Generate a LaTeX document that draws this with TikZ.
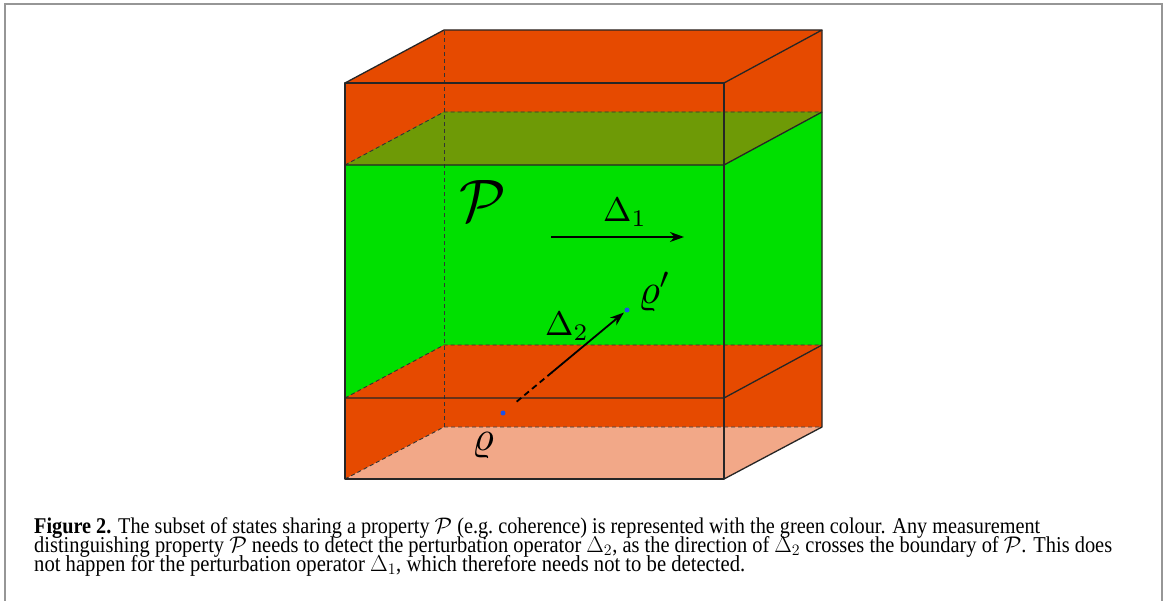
\RequirePackage{fix-cm}
\documentclass[tikz,border=0pt]{standalone}
\usepackage{fontspec}
\setmainfont{Liberation Serif}
\newfontfamily\capfont[FakeStretch=0.9]{Liberation Serif}
\usetikzlibrary{arrows.meta,calc}
\definecolor{cred}{RGB}{230,74,0}
\definecolor{cgreen}{RGB}{0,224,0}
\definecolor{colive}{RGB}{110,154,6}
\definecolor{csalmon}{RGB}{242,168,136}
\definecolor{cdot}{RGB}{30,80,230}
\definecolor{cframe}{RGB}{150,150,150}
\begin{document}
\begin{tikzpicture}[x=1pt,y=-1pt,
  edge/.style={line width=1.3pt, black!85, line join=round},
  hid/.style={line width=0.9pt, black!80, dash pattern=on 4pt off 3pt},
  statedot/.style={circle, fill=cdot, inner sep=0pt, minimum size=5pt},
  lab/.style={inner sep=0pt},
  arr/.style={line width=1.8pt, -{Stealth[length=14pt,width=10pt]}},
  capline/.style={anchor=base west, inner sep=0pt, font=\capfont\fontsize{18.5}{19}\selectfont}]
\useasboundingbox (0,0) rectangle (1165,601);
\fill[white] (0,0) rectangle (1165,601);
\draw[cframe, line width=2pt] (5,601) -- (5,4) -- (1162,4) -- (1162,601);
% cube corners
\coordinate (F0L) at (345,479); \coordinate (F0R) at (724,479);
\coordinate (B0L) at (444,427); \coordinate (B0R) at (822,427);
\coordinate (F1L) at (345,398); \coordinate (F1R) at (724,398);
\coordinate (B1L) at (444,345); \coordinate (B1R) at (822,345);
\coordinate (F2L) at (345,165); \coordinate (F2R) at (724,165);
\coordinate (B2L) at (444,112); \coordinate (B2R) at (822,112);
\coordinate (F3L) at (345,83);  \coordinate (F3R) at (724,83);
\coordinate (B3L) at (444,30);  \coordinate (B3R) at (822,30);
% fills
\fill[cred] (F0L)--(F0R)--(B0R)--(B3R)--(B3L)--(F3L)--cycle;
\fill[cgreen] (F1L)--(F1R)--(B1R)--(B2R)--(B2L)--(F2L)--cycle;
\fill[colive] (F2L)--(F2R)--(B2R)--(B2L)--cycle;
\fill[cred] (F1L)--(F1R)--(B1R)--(B1L)--cycle;
\fill[csalmon] (F0L)--(F0R)--(B0R)--(B0L)--cycle;
% hidden edges
\draw[hid] (B0L)--(B3L);
\draw[hid] (F0L)--(B0L)--(B0R);
\draw[hid] (F1L)--(B1L)--(B1R);
\draw[hid] (F2L)--(B2L)--(B2R);
% visible edges
\draw[edge] (F0L)--(F0R)--(F3R)--(F3L)--cycle;
\draw[edge] (F3L)--(B3L)--(B3R)--(F3R);
\draw[edge] (B3R)--(B0R)--(F0R);
\draw[edge] (F2L)--(F2R)--(B2R);
\draw[edge] (F1L)--(F1R)--(B1R);
% labels
\node[lab] (P) at (483,201) {\scalebox{6}{$\mathcal{P}$}};
\node[lab] (D1) at (625,212) {\scalebox{3.4}{$\Delta_1$}};
\node[lab] (D2) at (567,326) {\scalebox{3.4}{$\Delta_2$}};
\node[lab] (rpl) at (655,292) {\scalebox{4.2}{$\varrho'$}};
\node[lab] (rl) at (483,446) {\scalebox{4.2}{$\varrho$}};
\node[statedot] (r) at (503,413) {};
\node[statedot] (rp) at (627,310) {};
\coordinate (a1s) at (551,237);
\coordinate (a1e) at (684,237);
\draw[arr] (a1s) -- (a1e);
\draw[line width=1.8pt, dash pattern=on 6pt off 4pt] ($(r)!0.11!(rp)$) -- ($(r)!0.40!(rp)$);
\draw[arr] ($(r)!0.39!(rp)$) -- ($(r)!0.975!(rp)$);
% caption
\node[capline] (c1) at (34,533) {\resizebox{1006pt}{!}{\textbf{Figure 2.} The subset of states sharing a property $\mathcal{P}$ (e.g.\ coherence) is represented with the green colour. Any measurement}};
\node[capline] (c2) at (34,552) {\resizebox{1078pt}{!}{distinguishing property $\mathcal{P}$ needs to detect the perturbation operator $\Delta_2$, as the direction of $\Delta_2$ crosses the boundary of $\mathcal{P}$. This does}};
\node[capline] (c3) at (34,571) {\resizebox{711pt}{!}{not happen for the perturbation operator $\Delta_1$, which therefore needs not to be detected.}};
\end{tikzpicture}
\end{document}
